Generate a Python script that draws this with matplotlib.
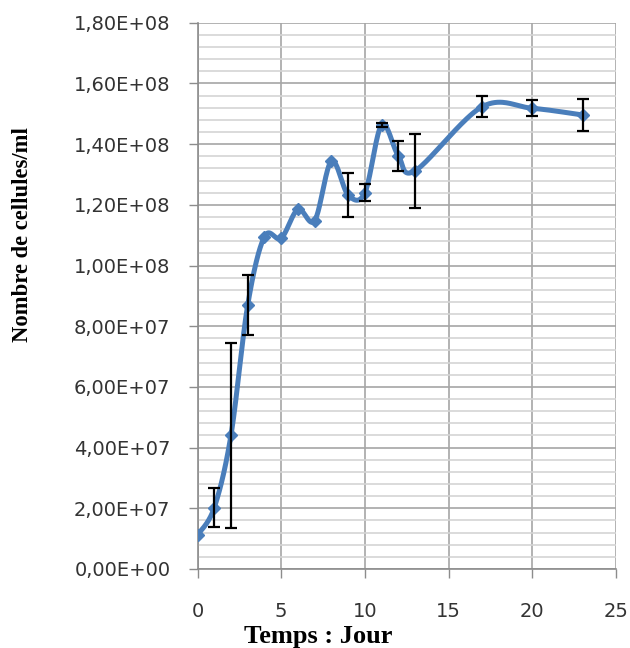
import numpy as np
import matplotlib
matplotlib.use("Agg")
import matplotlib.pyplot as plt
from matplotlib.ticker import MultipleLocator, FuncFormatter

# ---- data ----
days = [0, 1, 2, 3, 4, 5, 6, 7, 8, 9, 10, 11, 12, 13, 17, 20, 23]
cells = [1.12e7, 2.02e7, 4.41e7, 8.70e7, 1.095e8, 1.09e8, 1.185e8, 1.148e8,
         1.344e8, 1.232e8, 1.24e8, 1.463e8, 1.361e8, 1.312e8, 1.523e8, 1.518e8, 1.496e8]
errors = [0, 6.5e6, 3.05e7, 1.0e7, 0, 0, 0, 0,
          0, 7.3e6, 2.8e6, 0.8e6, 5.0e6, 1.22e7, 3.4e6, 2.7e6, 5.4e6]
x_ticks = [0, 5, 10, 15, 20, 25]
y_ticks = [0, 2e7, 4e7, 6e7, 8e7, 1e8, 1.2e8, 1.4e8, 1.6e8, 1.8e8]

x_label = "Temps : Jour"
y_label = "Nombre de cellules/ml"


def excel_smooth(xs, ys, n=40):
    """Smoothed line through points (Catmull-Rom style Bezier, like spreadsheet smoothing)."""
    xs = np.asarray(xs, float)
    ys = np.asarray(ys, float)
    px, py = [], []
    m = len(xs)
    for i in range(m - 1):
        x0, y0 = (xs[i - 1], ys[i - 1]) if i > 0 else (xs[i], ys[i])
        x1, y1 = xs[i], ys[i]
        x2, y2 = xs[i + 1], ys[i + 1]
        x3, y3 = (xs[i + 2], ys[i + 2]) if i + 2 < m else (x2, y2)
        c1x, c1y = x1 + (x2 - x0) / 6, y1 + (y2 - y0) / 6
        c2x, c2y = x2 - (x3 - x1) / 6, y2 - (y3 - y1) / 6
        t = np.linspace(0, 1, n)
        bx = (1 - t) ** 3 * x1 + 3 * (1 - t) ** 2 * t * c1x + 3 * (1 - t) * t ** 2 * c2x + t ** 3 * x2
        by = (1 - t) ** 3 * y1 + 3 * (1 - t) ** 2 * t * c1y + 3 * (1 - t) * t ** 2 * c2y + t ** 3 * y2
        px.extend(bx)
        py.extend(by)
    return np.array(px), np.array(py)


fig = plt.figure(figsize=(6.3, 6.48), dpi=100)
ax = fig.add_axes([197.5 / 630, (648 - 569) / 648, (616 - 197.5) / 630, (569 - 22.7) / 648])

blue = "#4A7EBB"
sx, sy = excel_smooth(days, cells)
ax.plot(sx, sy, color=blue, lw=3.6, solid_capstyle="round", zorder=3)
ax.plot(days, cells, linestyle="none", marker="D", markersize=6, color=blue, zorder=4)

ex = [d for d, e in zip(days, errors) if e > 0]
ey = [c for c, e in zip(cells, errors) if e > 0]
ee = [e for e in errors if e > 0]
ax.errorbar(ex, ey, yerr=ee, fmt="none", ecolor="black", elinewidth=1.6,
            capsize=4.5, capthick=1.6, zorder=5)

ax.set_xlim(0, 25)
ax.set_ylim(0, 1.8e8)
ax.set_xticks(x_ticks)
ax.set_yticks(y_ticks)
ax.yaxis.set_minor_locator(MultipleLocator(4e6))


def fmt(v, pos):
    if v == 0:
        return "0,00E+00"
    e = int(np.floor(np.log10(abs(v))))
    m = v / 10 ** e
    return f"{m:.2f}".replace(".", ",") + f"E+{e:02d}"


ax.yaxis.set_major_formatter(FuncFormatter(fmt))

ax.grid(which="major", axis="both", color="#a6a6a6", lw=1.2)
ax.grid(which="minor", axis="y", color="#d4d4d4", lw=1.2)
ax.set_axisbelow(True)
for s in ["top", "right"]:
    ax.spines[s].set_visible(False)
for s in ["left", "bottom"]:
    ax.spines[s].set_color("#8c8c8c")
    ax.spines[s].set_linewidth(1.2)

ax.tick_params(axis="both", which="major", direction="out", length=6.5, width=1.0,
               color="#8c8c8c", labelsize=14, labelcolor="#333333")
ax.tick_params(axis="y", which="minor", length=0)
ax.tick_params(axis="x", pad=17)
ax.tick_params(axis="y", pad=13)
for lab in ax.get_xticklabels() + ax.get_yticklabels():
    lab.set_family("DejaVu Sans")

fig.text(318 / 630, 1 - 636 / 648, x_label, ha="center", va="center",
         family="Liberation Serif", fontweight="bold", fontsize=19)
fig.text(23 / 630, 1 - 235 / 648, y_label, ha="center", va="center", rotation=90,
         family="Liberation Serif", fontweight="bold", fontsize=16.3)

fig.savefig("out.png", dpi=100)
